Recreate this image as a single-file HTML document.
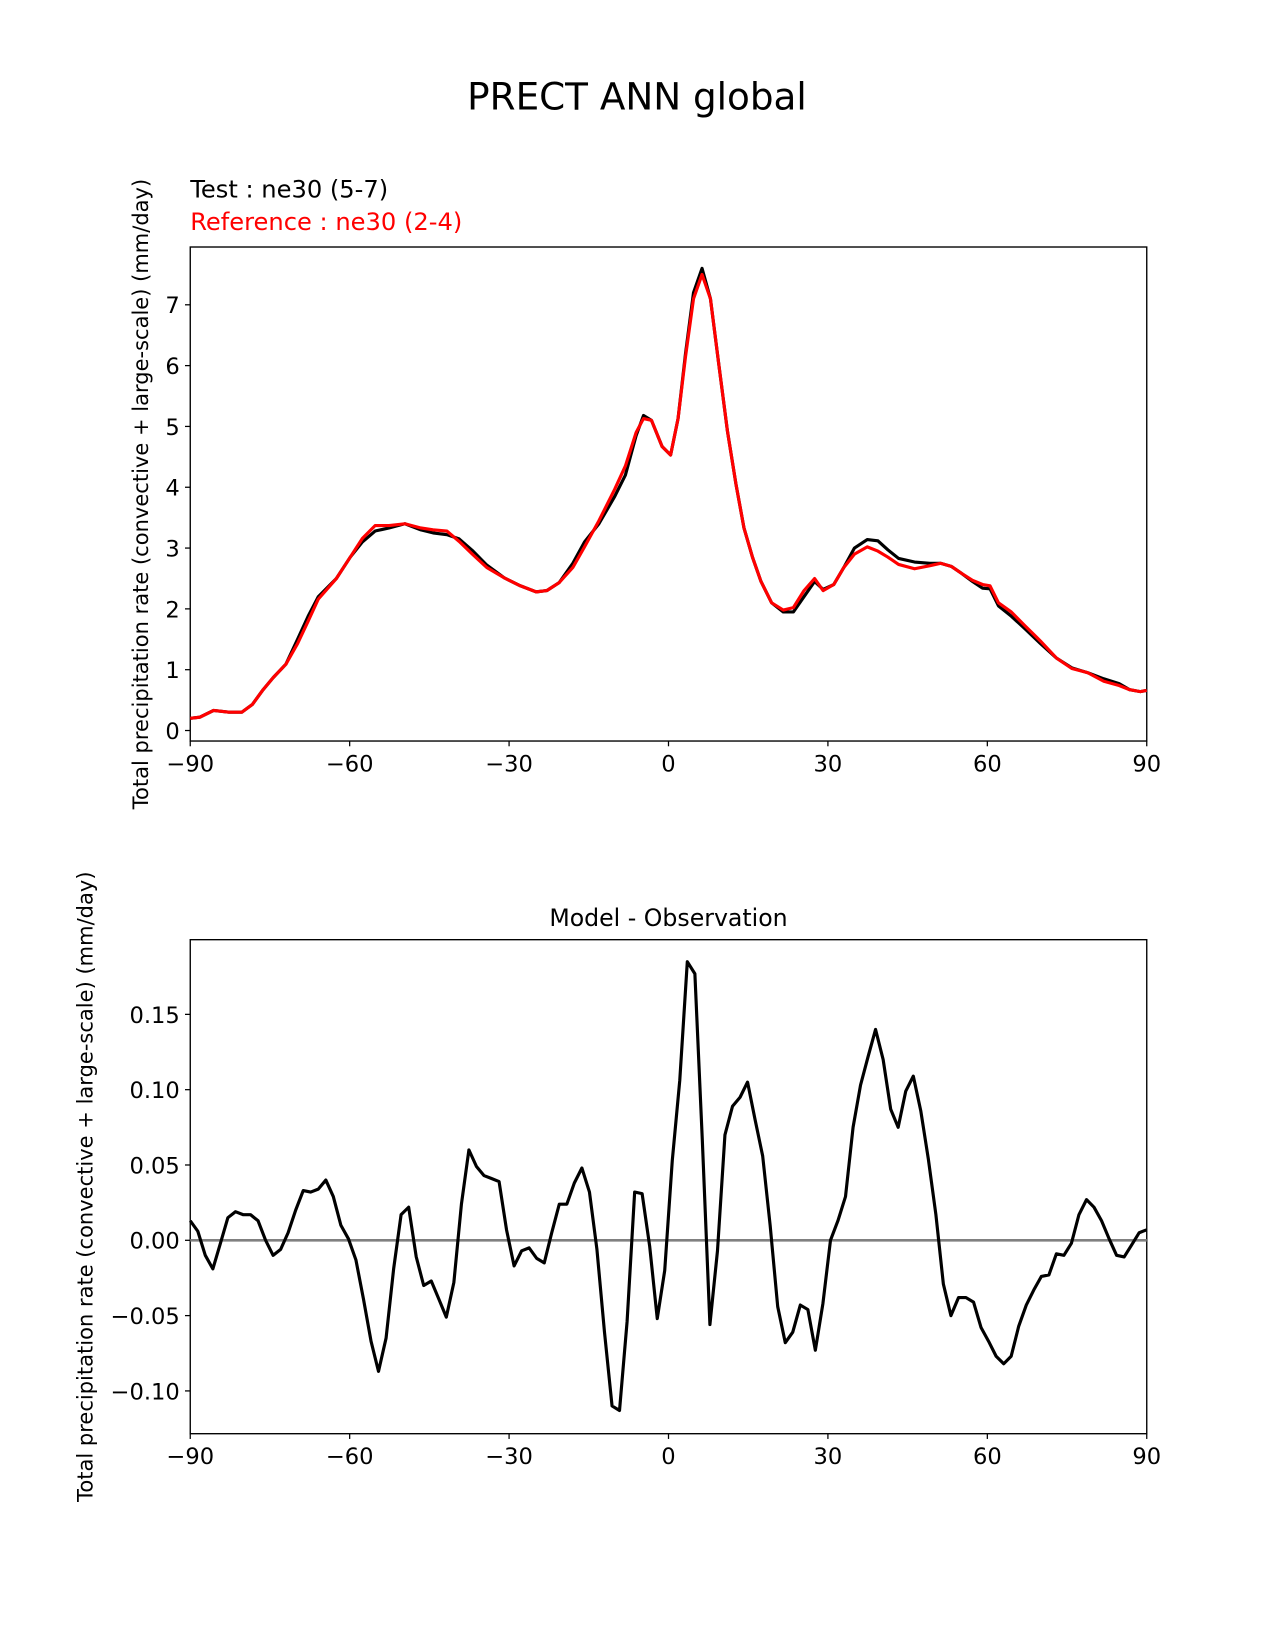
<!DOCTYPE html>
<html><head><meta charset="utf-8"><style>
body{margin:0;background:#fff;}
svg{display:block;font-family:"DejaVu Sans","Liberation Sans",sans-serif;}
</style></head><body>
<svg id="fig" width="1275" height="1650" viewBox="0 0 1275 1650">
<g transform="scale(1.0511)">
<text x="606" y="104" font-size="35.5" text-anchor="middle">PRECT ANN global</text>
<text x="181" y="188" font-size="23">Test : ne30 (5-7)</text>
<text x="181" y="219" font-size="23" fill="#ff0000">Reference : ne30 (2-4)</text>
<text x="636" y="881" font-size="22.5" text-anchor="middle">Model - Observation</text>
<g id="top"></g>
<g id="bot"></g>
</g>
</svg>
<script>
const topLat=[-90,-88.2,-85.6,-82.7,-80.3,-78.3,-76.3,-74.4,-72,-69.8,-67.8,-65.9,-62.5,-59.9,-57.6,-55.2,-52.6,-49.6,-46.6,-44.3,-41.7,-39.4,-36.8,-34.2,-30.9,-27.9,-24.9,-22.9,-20.6,-18,-15.8,-13.1,-10.1,-8.1,-6.1,-4.7,-3.2,-1.2,0.4,1.8,3.2,4.7,6.3,7.9,9.5,11.1,12.7,14.2,15.8,17.4,19.4,21.6,23.5,25.5,27.5,29.1,31.1,33,35,37.4,39.4,41.3,43.3,46.3,49.2,51.2,53.2,55.2,57.2,59.1,60.5,62.1,64.5,67,70,73,75.9,78.9,81.9,84.8,86.8,88.8,90];
const refVals=[0.2,0.22,0.33,0.3,0.3,0.43,0.67,0.87,1.09,1.43,1.8,2.16,2.5,2.85,3.16,3.37,3.37,3.4,3.33,3.3,3.28,3.11,2.89,2.68,2.51,2.38,2.28,2.3,2.43,2.68,3.02,3.45,3.97,4.35,4.9,5.13,5.1,4.67,4.53,5.13,6.15,7.1,7.5,7.1,6.0,4.92,4.05,3.33,2.85,2.45,2.1,1.98,2.02,2.3,2.5,2.3,2.4,2.68,2.9,3.02,2.95,2.85,2.73,2.66,2.71,2.75,2.7,2.58,2.47,2.4,2.38,2.1,1.95,1.73,1.47,1.19,1.02,0.95,0.81,0.74,0.67,0.64,0.66];
const testVals=[0.2,0.22,0.33,0.3,0.3,0.43,0.67,0.87,1.09,1.5,1.88,2.2,2.5,2.85,3.1,3.28,3.33,3.4,3.3,3.25,3.22,3.15,2.95,2.72,2.51,2.38,2.28,2.3,2.43,2.75,3.1,3.4,3.85,4.2,4.85,5.18,5.1,4.67,4.53,5.13,6.2,7.2,7.6,7.1,6.0,4.92,4.05,3.33,2.85,2.45,2.1,1.95,1.95,2.2,2.45,2.32,2.4,2.68,3.0,3.14,3.12,2.97,2.83,2.77,2.75,2.75,2.7,2.58,2.45,2.34,2.33,2.05,1.88,1.68,1.43,1.19,1.03,0.95,0.85,0.77,0.67,0.64,0.66];
const diffVals=[0.013,0.006,-0.010,-0.019,-0.002,0.015,0.019,0.017,0.017,0.013,0,-0.010,-0.006,0.005,0.020,0.033,0.032,0.034,0.040,0.029,0.010,0.001,-0.013,-0.039,-0.067,-0.087,-0.065,-0.019,0.017,0.022,-0.011,-0.030,-0.027,-0.039,-0.051,-0.028,0.024,0.060,0.049,0.043,0.041,0.039,0.007,-0.017,-0.007,-0.005,-0.012,-0.015,0.005,0.024,0.024,0.038,0.048,0.032,-0.006,-0.061,-0.110,-0.113,-0.054,0.032,0.031,-0.004,-0.052,-0.020,0.053,0.106,0.185,0.177,0.066,-0.056,-0.007,0.070,0.089,0.095,0.105,0.080,0.056,0.010,-0.044,-0.068,-0.061,-0.043,-0.046,-0.073,-0.042,0,0.013,0.029,0.075,0.103,0.122,0.140,0.120,0.087,0.075,0.099,0.109,0.086,0.054,0.017,-0.029,-0.050,-0.038,-0.038,-0.041,-0.058,-0.067,-0.077,-0.082,-0.077,-0.057,-0.043,-0.033,-0.024,-0.023,-0.009,-0.010,-0.002,0.017,0.027,0.022,0.013,0.001,-0.010,-0.011,-0.003,0.005,0.007];
const xTicks=[-90,-60,-30,0,30,60,90];
const xTickLabels=["\u221290","\u221260","\u221230","0","30","60","90"];
const topYTicks=[0,1,2,3,4,5,6,7];
const botYTicks=[-0.10,-0.05,0,0.05,0.10,0.15];
const botYTickLabels=["\u22120.10","\u22120.05","0.00","0.05","0.10","0.15"];

const NS="http://www.w3.org/2000/svg";
function mk(parent,tag,attrs){const e=document.createElementNS(NS,tag);for(const k in attrs)e.setAttribute(k,attrs[k]);parent.appendChild(e);return e;}
const X0=181,X1=1091;
const xs=v=>X0+(v+90)/180*(X1-X0);
const yTop=v=>695-v*57.86;
const yBot=v=>1180-v*1433;

function axes(g,top,bottom,yTicks,yLabels,ys,ylabelX,yMid,prefix){
  let r=mk(g,'rect',{x:X0,y:top,width:X1-X0,height:bottom-top,fill:'none',stroke:'#000','stroke-width':1.3});
  
  xTicks.forEach((t,i)=>{
    let l=mk(g,'line',{x1:xs(t),x2:xs(t),y1:bottom,y2:bottom+5,stroke:'#000','stroke-width':1.2});
    
    let tx=mk(g,'text',{x:xs(t),y:bottom+29,'font-size':21.5,'text-anchor':'middle'});
    tx.textContent=xTickLabels[i];
    
  });
  yTicks.forEach((t,i)=>{
    let l=mk(g,'line',{x1:X0-5,x2:X0,y1:ys(t),y2:ys(t),stroke:'#000','stroke-width':1.2});
    
    let tx=mk(g,'text',{x:X0-10,y:ys(t)+8,'font-size':21.5,'text-anchor':'end'});
    tx.textContent=yLabels[i];
    
  });
  let yl=mk(g,'text',{x:ylabelX,y:yMid,'font-size':20,'text-anchor':'middle',transform:`rotate(-90 ${ylabelX} ${yMid})`});
  yl.textContent='Total precipitation rate (convective + large-scale) (mm/day)';
  
}
function line(g,lats,vals,ys,color,name){
  const d=lats.map((la,i)=>(i?'L':'M')+xs(la).toFixed(1)+' '+ys(vals[i]).toFixed(1)).join(' ');
  let p=mk(g,'path',{d:d,fill:'none',stroke:color,'stroke-width':3,'stroke-linejoin':'round'});
  
}
const gt=document.getElementById('top');
axes(gt,235,705,topYTicks,topYTicks.map(String),yTop,141,470,'top');
line(gt,topLat,testVals,yTop,'#000','test-line');
line(gt,topLat,refVals,yTop,'#ff0000','reference-line');

const gb=document.getElementById('bot');
axes(gb,894,1364,botYTicks,botYTickLabels,yBot,88,1129,'diff');
let z=mk(gb,'line',{x1:X0,x2:X1,y1:yBot(0),y2:yBot(0),stroke:'#808080','stroke-width':2.5});

const n=diffVals.length;
const diffLat=diffVals.map((_,i)=>-90+180*i/(n-1));
line(gb,diffLat,diffVals,yBot,'#000','diff-line');
</script>
</body></html>
